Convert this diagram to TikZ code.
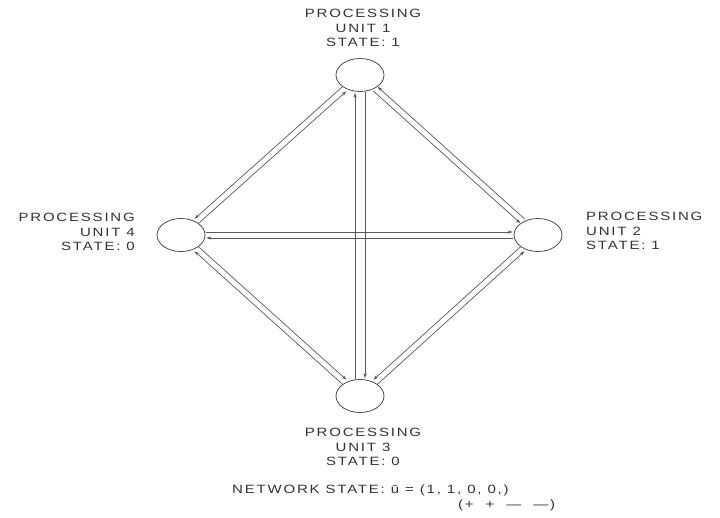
\documentclass[tikz,border=0pt]{standalone}
\usepackage{fontspec}
\setmainfont{Liberation Sans}[LetterSpace=15, FakeStretch=1.25]
\usetikzlibrary{arrows.meta,shapes.geometric}
\begin{document}
\begin{tikzpicture}[x=1pt,y=-1pt,
  unit/.style={draw=black!70, line width=0.8pt, ellipse, minimum width=48pt, minimum height=33pt, inner sep=0pt},
  lbl/.style={font=\fontsize{12}{14.5}\selectfont, text=black!80, inner sep=0pt},
  conn/.style={draw=black!65, line width=0.7pt, -{Stealth[length=5pt,width=3.4pt]}, shorten >=1pt, shorten <=0.5pt},
]
\useasboundingbox (0,0) rectangle (720,517);
\fill[white] (0,0) rectangle (720,517);

\node[unit] (u1) at (360,75) {};
\node[unit] (u2) at (538,235) {};
\node[unit] (u3) at (360,396) {};
\node[unit] (u4) at (181,235) {};

% 1 -- 2
\draw[conn, transform canvas={shift={(2.0,-2.23)}}] (u2) -- (u1);
\draw[conn, transform canvas={shift={(-2.0,2.23)}}] (u1) -- (u2);
% 1 -- 4
\draw[conn, transform canvas={shift={(-2.0,-2.24)}}] (u1) -- (u4);
\draw[conn, transform canvas={shift={(2.0,2.24)}}] (u4) -- (u1);
% 4 -- 3
\draw[conn, transform canvas={shift={(-2.0,2.23)}}] (u3) -- (u4);
\draw[conn, transform canvas={shift={(2.0,-2.23)}}] (u4) -- (u3);
% 3 -- 2
\draw[conn, transform canvas={shift={(2.0,2.22)}}] (u3) -- (u2);
\draw[conn, transform canvas={shift={(-2.0,-2.22)}}] (u2) -- (u3);
% 4 -- 2
\draw[conn, transform canvas={shift={(0,3)}}] (u2) -- (u4);
\draw[conn, transform canvas={shift={(0,-3)}}] (u4) -- (u2);
% 1 -- 3
\draw[conn, transform canvas={shift={(-5,0)}}] (u3) -- (u1);
\draw[conn, transform canvas={shift={(5,0)}}] (u1) -- (u3);

\node[lbl, align=center, anchor=north] (l1) at (363,9) {PROCESSING\\UNIT 1\\STATE: 1};
\node[lbl, align=right, anchor=north east] (l4) at (135,213) {PROCESSING\\UNIT 4\\STATE: 0};
\node[lbl, align=left, anchor=north west] (l2) at (586,212) {PROCESSING\\UNIT 2\\STATE: 1};
\node[lbl, align=center, anchor=north] (l3) at (363,428) {PROCESSING\\UNIT 3\\STATE: 0};
\node[lbl, anchor=west] (ns) at (232,490) {NETWORK STATE: ū = (1, 1, 0, 0,)};
\node[lbl, anchor=west] (sg) at (458,505) {(+\ \ +\ \ —\ \ —)};
\end{tikzpicture}
\end{document}
